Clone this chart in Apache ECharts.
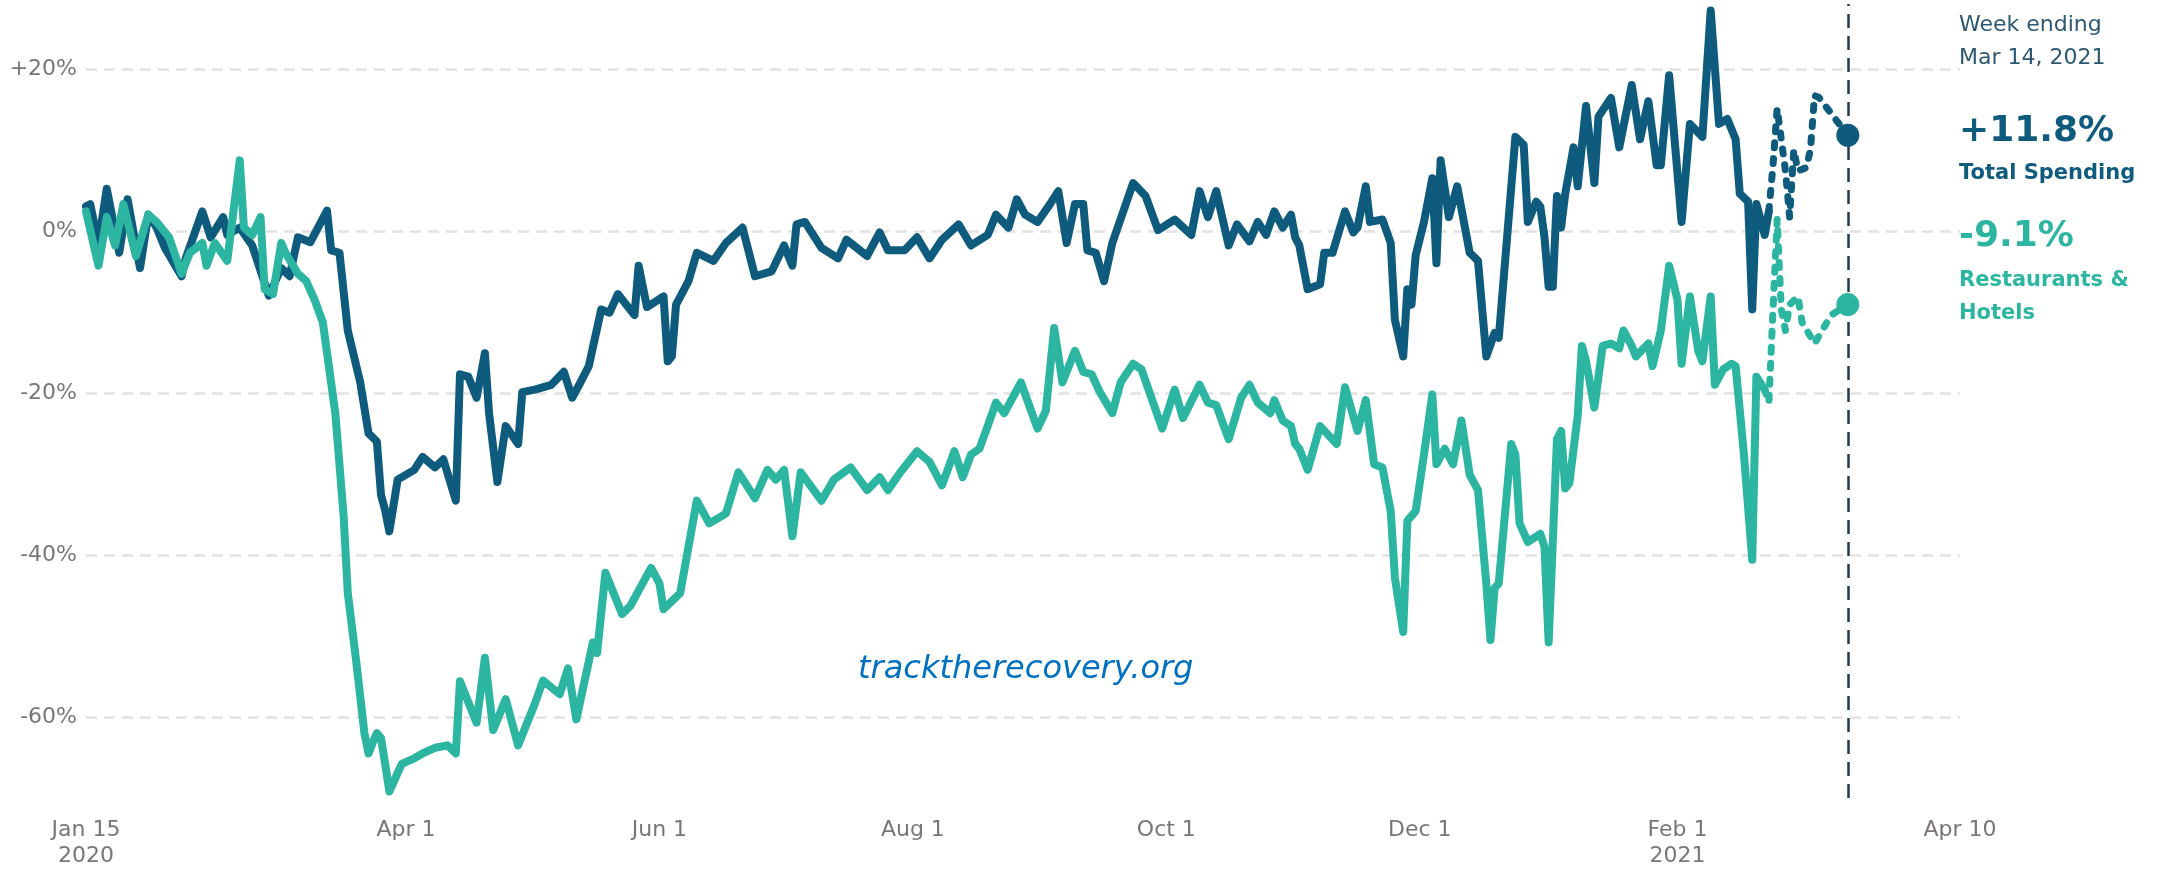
<!DOCTYPE html>
<html>
<head>
<meta charset="utf-8">
<title>Track the Recovery</title>
<script src="https://cdn.jsdelivr.net/npm/echarts@6/dist/echarts.min.js"></script>
<style>
  html, body { margin: 0; padding: 0; background: #fff; }
  #main { width: 2170px; height: 869px; }
</style>
</head>
<body>
<div id="main"></div>
<script>
// days counted from Jan 15 2020, values in % change
var startDate = '2020-01-15';
var endDate = '2021-04-10';

var totalDays = [0, 1, 3, 5, 8, 10, 13, 15, 17, 19, 23, 24, 28, 30, 33, 34, 37, 40, 44, 47, 49, 51, 54, 58, 59, 61, 63, 66, 68, 70, 71, 72, 73, 75, 79, 81, 84, 86, 89, 90, 92, 94, 96, 97, 99, 101, 104, 105, 108, 112, 115, 117, 119, 121, 124, 126, 128, 132, 133, 135, 139, 140, 141, 142, 145, 147, 151, 154, 158, 161, 165, 168, 170, 171, 173, 177, 181, 183, 188, 191, 193, 197, 200, 203, 206, 210, 213, 217, 219, 222, 224, 226, 229, 232, 234, 236, 238, 240, 241, 243, 245, 247, 252, 255, 258, 262, 266, 268, 270, 272, 275, 277, 280, 282, 284, 286, 288, 290, 291, 292, 294, 297, 298, 300, 303, 305, 306, 308, 309, 312, 314, 315, 317, 318, 319, 320, 322, 324, 325, 326, 328, 330, 333, 335, 337, 339, 340, 344, 346, 347, 349, 350, 351, 352, 353, 354, 355, 356, 358, 359, 361, 363, 364, 367, 369, 372, 374, 376, 378, 379, 381, 384, 386, 389, 391, 393, 395, 397, 398, 400, 401, 402, 404, 405];
var totalValues = [3.0, 3.3, -1.5, 5.2, -2.7, 3.9, -4.6, 2.0, 0.4, -2.1, -5.6, -3.4, 2.4, -0.8, 1.7, -0.5, 0.4, -1.8, -8.0, -4.6, -5.6, -0.8, -1.4, 2.5, -2.4, -2.7, -12.3, -18.7, -25, -26, -32.6, -34.5, -37.1, -30.7, -29.5, -27.9, -29.2, -28.2, -33.3, -17.7, -18, -20.6, -15.1, -22.5, -31, -24.1, -26.3, -19.9, -19.6, -19, -17.4, -20.6, -18.7, -16.7, -9.7, -10.1, -7.8, -10.4, -4.3, -9.4, -8.1, -16.1, -15.5, -9.1, -6.2, -2.7, -3.7, -1.5, 0.4, -5.6, -5, -1.8, -4.3, 0.8, 1.1, -2.1, -3.4, -1.1, -3.1, -0.2, -2.4, -2.4, -0.8, -3.4, -1.1, 0.8, -1.8, -0.5, 2.0, 0.4, 3.9, 2.0, 1.1, 3.3, 4.9, -1.5, 3.3, 3.3, -2.4, -2.7, -6.2, -1.5, 5.9, 4.3, 0.1, 1.4, -0.5, 4.9, 1.7, 4.9, -1.8, 0.8, -1.3, 1.1, -0.5, 2.4, 0.4, 2.0, -0.8, -1.8, -7.2, -6.6, -2.7, -2.7, 2.4, -0.2, 0.4, 5.5, 1.1, 1.4, -1.5, -11, -15.5, -7.2, -9.1, -3, 1.1, 6.5, -4, 8.7, 1.7, 5.5, -2.7, -3.7, -15.5, -12.6, -13.2, 11.6, 10.6, 1.1, 3.6, 3.0, -0.8, -6.9, -6.9, 4.3, 0.4, 4.6, 10.3, 5.5, 15.4, 5.9, 14.1, 16.4, 10.3, 18, 11.3, 16, 8.1, 8.1, 19.2, 1.1, 13.2, 11.6, 27.2, 13.2, 13.8, 11.3, 4.6, 3.6, -9.7, 3.3, -0.5, 2.4];

var restDays = [0, 3, 5, 7, 9, 12, 15, 17, 20, 23, 25, 28, 29, 31, 34, 35, 37, 38, 40, 42, 43, 45, 47, 48, 51, 53, 55, 57, 60, 62, 63, 65, 67, 68, 69, 70, 71, 72, 73, 76, 79, 81, 84, 87, 89, 90, 94, 96, 98, 101, 104, 108, 110, 114, 116, 118, 122, 123, 125, 129, 131, 133, 136, 138, 139, 143, 147, 150, 154, 157, 161, 164, 166, 168, 170, 172, 177, 180, 184, 188, 191, 193, 196, 200, 203, 206, 209, 211, 213, 215, 217, 219, 221, 225, 229, 231, 233, 235, 238, 240, 242, 244, 247, 249, 252, 254, 259, 262, 264, 268, 270, 272, 275, 278, 280, 282, 285, 286, 288, 290, 291, 292, 294, 297, 301, 303, 306, 308, 310, 312, 314, 315, 317, 318, 320, 322, 324, 325, 327, 329, 331, 333, 335, 337, 338, 339, 340, 343, 344, 345, 347, 350, 351, 352, 353, 354, 355, 356, 357, 359, 360, 361, 363, 365, 367, 369, 370, 372, 373, 376, 377, 379, 381, 383, 384, 386, 388, 389, 391, 392, 394, 396, 397, 399, 401, 402, 404];
var restValues = [2.4, -4.3, 1.7, -1.8, 3.3, -3.1, 2.0, 1.1, -0.8, -5.3, -2.7, -1.5, -4.3, -1.5, -3.7, 0.4, 8.7, 0.4, -0.5, 1.7, -7.2, -7.8, -1.5, -2.7, -5.3, -6.2, -8.5, -11.3, -22.5, -35.2, -44.7, -53, -62, -64.5, -63.2, -62, -62.6, -65.8, -69.2, -65.8, -65.1, -64.5, -63.8, -63.5, -64.5, -55.6, -60.7, -52.7, -61.6, -57.8, -63.5, -58.4, -55.5, -57.2, -54.0, -60.3, -50.8, -52.1, -42.2, -47.3, -46.3, -44.4, -41.6, -43.5, -46.7, -44.7, -33.3, -36.1, -34.9, -29.8, -33, -29.5, -30.7, -29.5, -37.7, -29.8, -33.3, -30.7, -29.2, -32, -30.4, -32, -29.8, -27.2, -28.5, -31.4, -27.2, -30.4, -27.6, -26.9, -24.1, -21.2, -22.5, -18.7, -24.4, -22.2, -12, -18.7, -14.8, -17.4, -17.7, -19.9, -22.5, -18.7, -16.4, -17.1, -24.4, -19.6, -23.1, -19, -21.2, -21.5, -25.7, -20.6, -19, -21.2, -22.5, -20.9, -23.4, -24.1, -26.3, -26.9, -29.5, -24.1, -26.3, -19.3, -24.7, -20.9, -28.8, -29.2, -34.6, -42.8, -49.5, -35.8, -34.6, -27.6, -20.2, -28.8, -26.9, -28.8, -23.4, -30.1, -32, -43.5, -50.5, -44.1, -43.5, -26.3, -27.6, -36.1, -38.4, -37.4, -39, -50.8, -38.4, -25.7, -24.7, -31.8, -31.1, -22.8, -14.2, -16.1, -21.8, -14.2, -13.9, -14.5, -12.3, -14.2, -15.5, -13.9, -16.7, -12.3, -4.3, -8.5, -16.4, -8.1, -14.8, -16.1, -8.1, -19, -17.1, -16.4, -16.7, -27.6, -40.6, -18, -19.6];

// preliminary (dashed) part
var totalPrelimDays = [405, 406, 407, 409, 410, 411, 412, 414, 415, 416, 417, 424];
var totalPrelimValues = [2.4, 8.1, 15.1, 7.4, 1.7, 10, 7.4, 7.8, 10, 16.7, 16.5, 11.8];
var restPrelimDays = [404, 405, 406, 407, 408, 409, 410, 412, 413, 416, 420, 424];
var restPrelimValues = [-19.6, -21.2, -9.7, 1.4, -9.7, -12.3, -9.1, -8.1, -11.3, -13.9, -10.4, -9.1];

var latestDay = 424;
var latestLabel = ['Week ending', 'Mar 14, 2021'];
var latestTotal = 11.8;
var latestRest = -9.1;

var tickDates = ['2020-01-15', '2020-04-01', '2020-06-01', '2020-08-01', '2020-10-01', '2020-12-01', '2021-02-01', '2021-04-10'];
var tickLabels = ['Jan 15\n2020', 'Apr 1', 'Jun 1', 'Aug 1', 'Oct 1', 'Dec 1', 'Feb 1\n2021', 'Apr 10'];

var blue = '#0f5b7e';
var teal = '#2cb5a1';
var font = '"DejaVu Sans", sans-serif';

var DAY = 86400000;
var start = Date.parse(startDate);
function dayOf(dateStr) { return Math.round((Date.parse(dateStr) - start) / DAY); }
var tickDays = tickDates.map(dayOf);
function pairs(days, vals) {
  return days.map(function (d, i) { return [d, vals[i]]; });
}

function pct(v) {
  return (v > 0 ? '+' : '') + v.toFixed(1) + '%';
}

var myChart = echarts.init(document.getElementById('main'));

var option = {
  animation: false,
  grid: { left: 86, right: 210, top: 4, bottom: 71 },
  xAxis: {
    type: 'value',
    min: 0,
    max: dayOf(endDate),
    axisLine: { show: false },
    axisTick: { show: false },
    splitLine: { show: false },
    axisLabel: {
      customValues: tickDays,
      showMinLabel: true,
      showMaxLabel: true,
      hideOverlap: false,
      margin: 19,
      fontFamily: font,
      fontSize: 22,
      lineHeight: 26,
      color: '#7a7674',
      formatter: function (v) {
        var i = tickDays.indexOf(v);
        return i >= 0 ? tickLabels[i] : '';
      }
    }
  },
  yAxis: {
    type: 'value',
    min: -70,
    max: 28,
    splitNumber: 5,
    axisLine: { show: false },
    axisTick: { show: false },
    axisLabel: {
      showMinLabel: false,
      showMaxLabel: false,
      margin: 9,
      fontFamily: font,
      fontSize: 22,
      color: '#7a7674',
      formatter: function (v) { return (v > 0 ? '+' : '') + v + '%'; }
    },
    splitLine: {
      showMinLine: false,
      showMaxLine: false,
      lineStyle: { color: '#e2e2e2', width: 2.5, type: [11, 7] }
    }
  },
  series: [
    {
      name: 'Total Spending',
      type: 'line',
      data: pairs(totalDays, totalValues),
      showSymbol: false,
      lineStyle: { color: blue, width: 8, cap: 'round', join: 'round' },
      markLine: {
        silent: true,
        symbol: ['none', 'none'],
        label: { show: false },
        lineStyle: { color: '#1f3d52', width: 2.5, type: [14, 8] },
        data: [{ xAxis: latestDay }]
      }
    },
    {
      name: 'Total Spending (prelim)',
      type: 'line',
      data: pairs(totalPrelimDays, totalPrelimValues),
      showSymbol: false,
      lineStyle: { color: blue, width: 7, type: [5, 11], cap: 'round', join: 'round' }
    },
    {
      name: 'Restaurants & Hotels',
      type: 'line',
      data: pairs(restDays, restValues),
      showSymbol: false,
      lineStyle: { color: teal, width: 8, cap: 'round', join: 'round' }
    },
    {
      name: 'Restaurants & Hotels (prelim)',
      type: 'line',
      data: pairs(restPrelimDays, restPrelimValues),
      showSymbol: false,
      lineStyle: { color: teal, width: 7, type: [5, 11], cap: 'round', join: 'round' }
    },
    {
      type: 'scatter',
      symbolSize: 23,
      itemStyle: { color: blue, opacity: 1 },
      data: [[latestDay, latestTotal]],
      z: 5
    },
    {
      type: 'scatter',
      symbolSize: 23,
      itemStyle: { color: teal, opacity: 1 },
      data: [[latestDay, latestRest]],
      z: 5
    }
  ],
  graphic: [
    { type: 'text', x: 1959, y: 25, style: { text: latestLabel[0], font: '22px ' + font, fill: '#2d5872', verticalAlign: 'middle' } },
    { type: 'text', x: 1959, y: 58, style: { text: latestLabel[1], font: '22px ' + font, fill: '#2d5872', verticalAlign: 'middle' } },
    { type: 'text', x: 1959, y: 132, style: { text: pct(latestTotal), font: 'bold 36px ' + font, fill: blue, verticalAlign: 'middle' } },
    { type: 'text', x: 1959, y: 174, style: { text: 'Total Spending', font: 'bold 21px ' + font, fill: blue, verticalAlign: 'middle' } },
    { type: 'text', x: 1959, y: 237, style: { text: pct(latestRest), font: 'bold 36px ' + font, fill: teal, verticalAlign: 'middle' } },
    { type: 'text', x: 1959, y: 281, style: { text: 'Restaurants &', font: 'bold 21px ' + font, fill: teal, verticalAlign: 'middle' } },
    { type: 'text', x: 1959, y: 314, style: { text: 'Hotels', font: 'bold 21px ' + font, fill: teal, verticalAlign: 'middle' } },
    { type: 'text', x: 858, y: 670, style: { text: 'tracktherecovery.org', font: 'italic 32px ' + font, fill: '#0070c0', verticalAlign: 'middle' } }
  ]
};

option && myChart.setOption(option);
</script>
</body>
</html>
